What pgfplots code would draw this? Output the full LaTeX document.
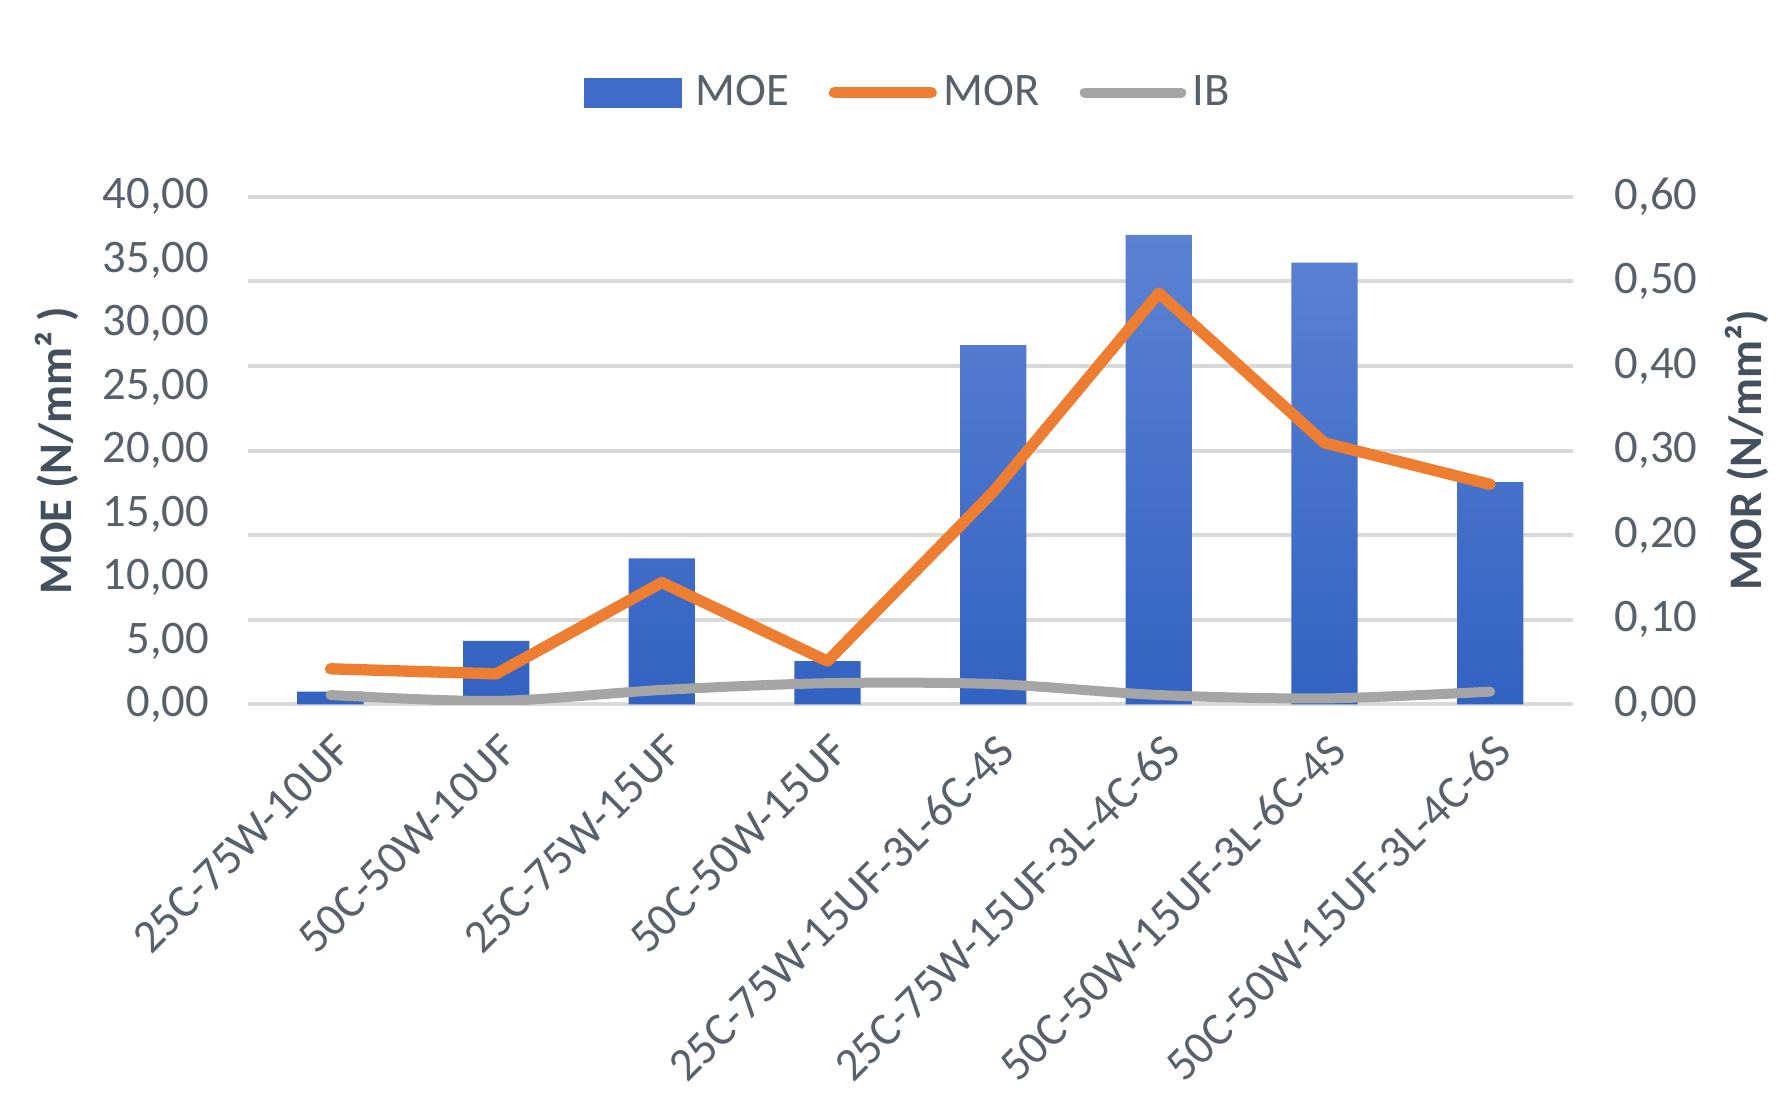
\documentclass[border=0pt]{standalone}
\usepackage{fontspec}
\setmainfont{Carlito}
\usepackage{pgfplots}
\pgfplotsset{compat=1.18}
\definecolor{barTop}{HTML}{5C82D3}
\definecolor{barBot}{HTML}{3262C2}
\definecolor{barLeg}{HTML}{3F6CC8}
\definecolor{morC}{HTML}{ED7D31}
\definecolor{ibC}{HTML}{A5A5A5}
\definecolor{gridC}{HTML}{D9D9D9}
\definecolor{tickC}{HTML}{58606B}
\definecolor{titleC}{HTML}{44505E}
\pgfplotsset{
  lineleg/.style={legend image code/.code={\draw[##1] (1.5pt,0pt) -- (30.5pt,0pt);}},
  barleg/.style={legend image code/.code={\fill[barLeg] (0pt,-4.3pt) rectangle (29pt,4.3pt); \path (31pt,0pt);}},
  base/.style={
    scale only axis, width=397.6pt, height=152.3pt,
    at={(74.3pt,123.2pt)}, anchor=south west,
    xmin=-0.5, xmax=7.5,
    axis line style={draw=none}, tick style={draw=none},
    font=\fontsize{14pt}{16pt}\selectfont,
    tick label style={text=tickC},
    /pgf/number format/.cd, assume math mode=true, fixed, fixed zerofill, precision=2, use comma,
  }
}
\begin{document}
\begin{tikzpicture}
\useasboundingbox (0,0) rectangle (534.3pt,334.5pt);
\begin{axis}[base,
  ymin=0, ymax=40, ytick={0,5,...,40},
  axis x line*=bottom, axis y line*=left,
  xtick={0,...,7},
  xticklabels={25C-75W-10UF,50C-50W-10UF,25C-75W-15UF,50C-50W-15UF,25C-75W-15UF-3L-6C-4S,25C-75W-15UF-3L-4C-6S,50C-50W-15UF-3L-6C-4S,50C-50W-15UF-3L-4C-6S},
  xticklabel style={xshift=0.5pt, yshift=-8pt, rotate=45, anchor=north east, inner sep=0pt},
  yticklabel style={xshift=-8pt},
  extra y ticks={0,6.66667,13.33333,20,26.66667,33.33333,40},
  extra y tick labels={},
  extra y tick style={ymajorgrids=true, major grid style={gridC, line width=1.2pt}},
  ylabel={\bfseries MOE (N/mm² )},
  every axis y label/.style={at={(axis description cs:-0.144,0.5)}, rotate=90, anchor=center, text=titleC},
]
\addplot[ybar, bar width=0.4, draw=none, top color=barTop, bottom color=barBot]
  coordinates {(0,1.0) (1,5.0) (2,11.5) (3,3.4) (4,28.3) (5,37.0) (6,34.8) (7,17.5)};
\end{axis}
\begin{axis}[base,
  ymin=0, ymax=0.6, ytick={0,0.1,...,0.6},
  axis y line*=right, hide x axis,
  yticklabel style={xshift=9pt},
  ylabel={\bfseries MOR (N/mm²)},
  every axis y label/.style={at={(axis description cs:1.131,0.5)}, rotate=90, anchor=center, text=titleC},
  legend columns=3,
  legend style={draw=none, fill=none, at={(0.5,1.205)}, anchor=center,
    text=tickC, font=\fontsize{14pt}{16pt}\selectfont,
    /tikz/every even column/.append style={column sep=10pt}},
]
\addlegendimage{barleg}
\addlegendentry{MOE}
\addplot[morC, line width=3.4pt, line join=round, line cap=round, lineleg]
  coordinates {(0,0.042) (1,0.036) (2,0.144) (3,0.051) (4,0.251) (5,0.486) (6,0.309) (7,0.260)};
\addlegendentry{MOR}
\addplot[ibC, line width=3pt, smooth, tension=0.5, line cap=round, lineleg]
  coordinates {(0,0.011) (1,0.004) (2,0.017) (3,0.025) (4,0.024) (5,0.011) (6,0.007) (7,0.015)};
\addlegendentry{IB}
\end{axis}
\end{tikzpicture}
\end{document}
